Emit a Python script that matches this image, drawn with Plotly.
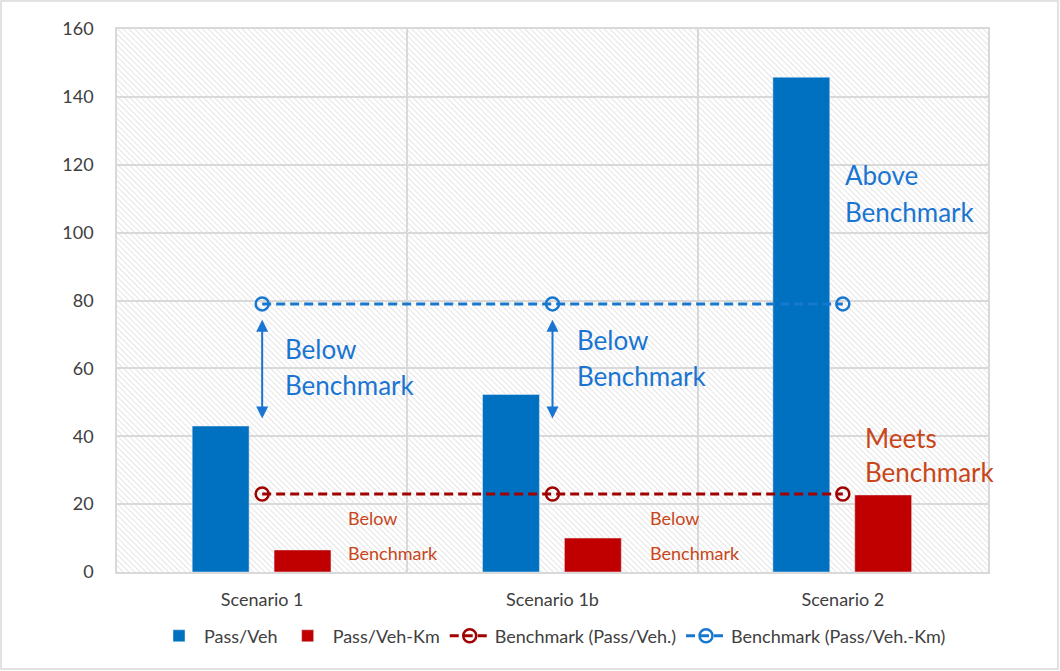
import base64
import plotly.graph_objects as go

# ---- data ----
scenarios = ["Scenario 1", "Scenario 1b", "Scenario 2"]
pass_per_veh = [43, 52.3, 145.8]
pass_per_veh_km = [6.5, 10, 22.7]
benchmark_veh = [23, 23, 23]        # drawn in dark red
benchmark_veh_km = [79, 79, 79]     # drawn in blue
y_ticks = [0, 20, 40, 60, 80, 100, 120, 140, 160]

W, H = 1060, 671
M = dict(l=117, r=72, t=29, b=99)
PW, PH = W - M["l"] - M["r"], H - M["t"] - M["b"]

FONT = "Lato"
GRID = "#d9d9d9"
BLUE = "#0070C0"
RED = "#C00000"
BM_RED = "#A00000"
BM_BLUE = "#1878D0"
TXT_BLUE = "#1A75D2"
TXT_RED = "#C8461A"

x_idx = list(range(len(scenarios)))
BAR_W = 0.196

fig = go.Figure()
fig.add_bar(x=x_idx, y=pass_per_veh, name="Pass/Veh", marker_color=BLUE,
            width=BAR_W, offset=-0.241)
fig.add_bar(x=x_idx, y=pass_per_veh_km, name="Pass/Veh-Km", marker_color=RED,
            width=BAR_W, offset=0.041)
fig.add_scatter(
    x=x_idx, y=benchmark_veh, name="Benchmark (Pass/Veh.)", mode="lines+markers",
    line=dict(color=BM_RED, width=3, dash="9px,5px"),
    marker=dict(symbol="circle-open", size=13, color=BM_RED, line=dict(width=2.5)),
)
fig.add_scatter(
    x=x_idx, y=benchmark_veh_km, name="Benchmark (Pass/Veh.-Km)", mode="lines+markers",
    line=dict(color=BM_BLUE, width=3, dash="9px,5px"),
    marker=dict(symbol="circle-open", size=13, color=BM_BLUE, line=dict(width=2.5)),
)

# diagonal hatch for the plotting area
svg = (
    f'<svg xmlns="http://www.w3.org/2000/svg" width="{PW}" height="{PH}">'
    '<defs><pattern id="h" width="4" height="4" patternUnits="userSpaceOnUse" '
    'patternTransform="rotate(-45)">'
    '<rect width="4" height="4" fill="#ffffff"/>'
    '<line x1="0" y1="0" x2="0" y2="4" stroke="#dadada" stroke-width="1.4"/>'
    '</pattern></defs>'
    f'<rect width="{PW}" height="{PH}" fill="url(#h)"/></svg>'
)
src = "data:image/svg+xml;base64," + base64.b64encode(svg.encode()).decode()
fig.add_layout_image(
    source=src, xref="paper", yref="paper", x=0, y=1, sizex=1, sizey=1,
    xanchor="left", yanchor="top", sizing="stretch", layer="below",
)

# outer frame around the whole figure
fig.add_shape(
    type="rect", xref="paper", yref="paper",
    x0=(1 - M["l"]) / PW, x1=(W - 2 - M["l"]) / PW,
    y0=-(M["b"] - 2) / PH, y1=(PH + M["t"] - 1) / PH,
    line=dict(color=GRID, width=1.5), layer="below",
)

# text callouts: (text, x, y, size, color)
notes = [
    ("Below", 0.072, 65.7, 26, TXT_BLUE),
    ("Benchmark", 0.072, 55.1, 26, TXT_BLUE),
    ("Below", 1.077, 68.4, 26, TXT_BLUE),
    ("Benchmark", 1.077, 57.7, 26, TXT_BLUE),
    ("Above", 2.0, 117.0, 26, TXT_BLUE),
    ("Benchmark", 2.0, 106.0, 26, TXT_BLUE),
    ("Meets", 2.07, 39.5, 26, TXT_RED),
    ("Benchmark", 2.07, 29.5, 26, TXT_RED),
    ("Below", 0.289, 15.9, 18, TXT_RED),
    ("Benchmark", 0.289, 5.6, 18, TXT_RED),
    ("Below", 1.329, 15.9, 18, TXT_RED),
    ("Benchmark", 1.329, 5.6, 18, TXT_RED),
]
for text, x, y, size, color in notes:
    fig.add_annotation(
        x=x, y=y, text=text, showarrow=False, xanchor="left", yanchor="middle",
        font=dict(family=FONT, size=size, color=color),
    )

# double-headed gap arrows between bar and benchmark
for i in (0, 1):
    fig.add_annotation(
        x=x_idx[i], y=45.2, ax=x_idx[i], ay=74.8, axref="x", ayref="y",
        text="", showarrow=True, arrowhead=2, startarrowhead=2,
        arrowside="end+start", arrowsize=1.2, startarrowsize=1.2,
        arrowwidth=2, arrowcolor=TXT_BLUE,
    )

fig.update_layout(
    width=W, height=H, margin=M,
    paper_bgcolor="white", plot_bgcolor="rgba(0,0,0,0)",
    barmode="overlay",
    font=dict(family=FONT, color="#404040"),
    legend=dict(
        orientation="h", x=0.5, xanchor="center", y=-0.118, yanchor="middle",
        font=dict(size=18, color="#404040"), itemwidth=40,
        traceorder="normal",
    ),
)
fig.update_xaxes(
    range=[-0.5, 2.5], tickmode="array", tickvals=x_idx, ticktext=scenarios,
    showgrid=False, zeroline=False, ticks="",
    showline=True, mirror=True, linecolor=GRID, linewidth=1.5,
    tickfont=dict(size=18, color="#404040"), ticklabelstandoff=11,
    minor=dict(tickmode="array", tickvals=[0.5, 1.5], showgrid=True,
               gridcolor=GRID, gridwidth=1.5, ticks=""),
)
fig.update_yaxes(
    range=[0, 160], tickmode="array", tickvals=y_ticks,
    showgrid=True, gridcolor=GRID, gridwidth=1.5, zeroline=False,
    showline=True, mirror=True, linecolor=GRID, linewidth=1.5,
    tickfont=dict(size=18, color="#404040"), ticklabelstandoff=18,
)

fig.write_html("out.html")
